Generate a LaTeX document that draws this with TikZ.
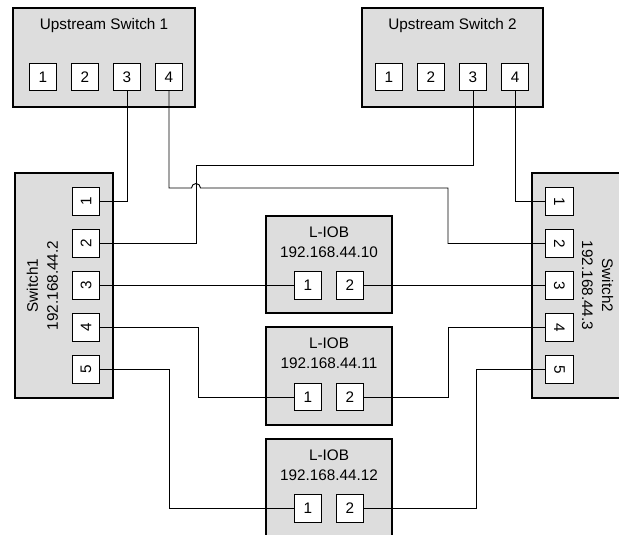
\documentclass[tikz,border=0pt]{standalone}
\usepackage{fontspec}
\setmainfont{Liberation Sans}
\usetikzlibrary{positioning}
\definecolor{boxgray}{HTML}{DDDDDD}
\tikzset{
  dev/.style={draw, line width=2pt, fill=boxgray, inner sep=0pt},
  port/.style={draw, line width=0.8pt, fill=white, minimum size=27.5pt, inner sep=0pt},
  lbl/.style={align=center, inner sep=0pt},
  wire/.style={line width=0.9pt}
}

\begin{document}
\begin{tikzpicture}[x=1pt, y=-1pt, every node/.append style={font=\fontsize{15.3}{20}\selectfont}]
\clip (0,0) rectangle (619,535);
% upstream switches
\node[dev, minimum width=182pt, minimum height=99pt] (us1) at (104,57.5) {};
\node[lbl] (us1lbl) at (104,26) {Upstream Switch 1};
\foreach \i/\x in {1/43,2/85,3/127,4/169} \node[port] (us1p\i) at (\x,77) {\i};
\node[dev, minimum width=181pt, minimum height=99pt] (us2) at (452.5,57.5) {};
\node[lbl] (us2lbl) at (452.5,26) {Upstream Switch 2};
\foreach \i/\x in {1/389,2/431,3/473,4/515} \node[port] (us2p\i) at (\x,77) {\i};
% switches (ports turned, so south is the inner side)
\node[dev, minimum width=98pt, minimum height=225pt] (sw1) at (64,285.5) {};
\node[lbl, rotate=90] (sw1lbl) at (42.5,285.5) {Switch1\\192.168.44.2};
\foreach \i in {1,...,5} \node[port, rotate=90] (sw1p\i) at (86,{201.5+42*(\i-1)}) {\i};
\node[dev, minimum width=98pt, minimum height=225pt] (sw2) at (581,285.5) {};
\node[lbl, rotate=-90] (sw2lbl) at (597.5,285.5) {Switch2\\192.168.44.3};
\foreach \i in {1,...,5} \node[port, rotate=-90] (sw2p\i) at (559.5,{201.5+42*(\i-1)}) {\i};
% L-IOBs
\foreach \j/\y/\ip in {1/264.5/10,2/376/11,3/487.5/12} {
  \node[dev, minimum width=126pt, minimum height=97.5pt] (iob\j) at (329,\y) {};
  \node[lbl] (iob\j lbl) at (329,\y-22.75) {L-IOB\\192.168.44.\ip};
  \node[port] (iob\j p1) at (308,\y+21) {1};
  \node[port] (iob\j p2) at (350,\y+21) {2};
}
% wiring
\coordinate (j3) at (196,165);
\coordinate (hop) at (196,188);
\coordinate (j2) at (448,188);
\coordinate (v7) at (198,0);
\coordinate (v8) at (448,0);
\coordinate (v9) at (169,0);
\coordinate (v10) at (476,0);
\draw[wire] (us1p3.south) |- (sw1p1.south);
\draw[wire] (us2p4.south) |- (sw2p1.south);
\draw[wire] (us2p3.south) |- (j3) |- (sw1p2.south);
\draw[wire] (us1p4.south) |- ([xshift=-4.5pt]hop) arc[start angle=180, end angle=0, radius=4.5pt] -- (j2) |- (sw2p2.south);
\draw[wire] (sw1p3.south) -- (iob1p1.west);
\draw[wire] (iob1p2.east) -- (sw2p3.south);
\draw[wire] (sw1p4.south) -| (v7 |- iob2p1.west) -- (iob2p1.west);
\draw[wire] (iob2p2.east) -| (v8 |- sw2p4.south) -- (sw2p4.south);
\draw[wire] (sw1p5.south) -| (v9 |- iob3p1.west) -- (iob3p1.west);
\draw[wire] (iob3p2.east) -| (v10 |- sw2p5.south) -- (sw2p5.south);
\end{tikzpicture}
\end{document}
